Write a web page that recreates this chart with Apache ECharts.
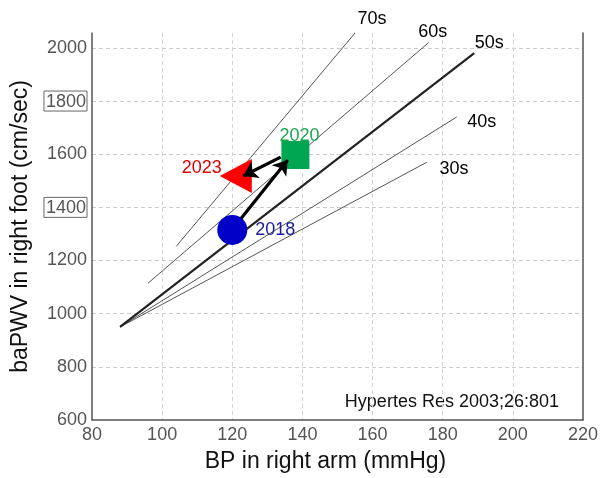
<!DOCTYPE html>
<html>
<head>
<meta charset="utf-8">
<script src="https://cdn.jsdelivr.net/npm/echarts@6/dist/echarts.min.js"></script>
<style>
  html, body { margin: 0; padding: 0; background: #fff; }
  #main { width: 601px; height: 478px; }
</style>
</head>
<body>
<div id="main"></div>
<script>
// age-group reference lines (BP, baPWV)
var ageGroups = ['30s', '40s', '50s', '60s', '70s'];
var lineStart = [[88, 950], [88, 950], [88, 950], [96, 1115], [104, 1253]];
var lineEnd = [[175.5, 1570], [184, 1740], [189, 1980], [176, 2020], [155, 2056]];

// patient measurements
var years = ['2018', '2020', '2023'];
var bpValues = [120, 138, 121];
var pwvValues = [1315, 1597, 1518];

// arrows between measurements
var arrowFrom = [[122.5, 1358], [133.8, 1589]];
var arrowTo = [[135.8, 1578], [123.1, 1518]];

var xTicks = [80, 100, 120, 140, 160, 180, 200, 220];
var yTicks = [600, 800, 1000, 1200, 1400, 1600, 1800, 2000];

var font = 'Liberation Sans, Arial, sans-serif';

function createChart() {
    var chartDom = document.getElementById('main');
    var myChart = echarts.init(chartDom);
    var option;

    var series = [];
    for (let i = 0; i < ageGroups.length; i++) {
        series.push({
            name: ageGroups[i],
            type: 'line',
            data: [lineStart[i], lineEnd[i]],
            symbol: 'none',
            clip: false,
            silent: true,
            lineStyle: {
                color: ageGroups[i] === '50s' ? '#222' : '#555',
                width: ageGroups[i] === '50s' ? 2.2 : 1
            },
            z: 2
        });
    }

    // label offsets for line-end texts
    var lblOffset = [[27, 7], [25, 5], [15, -10], [4, -11], [17, -14]];
    series.push({
        type: 'scatter',
        symbolSize: 0,
        silent: true,
        clip: false,
        itemStyle: { opacity: 1 },
        data: lineEnd.map(function (p, i) {
            return {
                value: p,
                label: {
                    show: true,
                    position: 'inside',
                    offset: lblOffset[i],
                    formatter: ageGroups[i],
                    color: '#000',
                    textBorderWidth: 0,
                    fontSize: 18,
                    fontFamily: font
                }
            };
        })
    });

    series.push({
        type: 'lines',
        coordinateSystem: 'cartesian2d',
        symbol: ['none', 'arrow'],
        symbolSize: 14,
        lineStyle: { color: '#000', width: 3.2, opacity: 1 },
        data: arrowFrom.map(function (p, i) {
            return { coords: [p, arrowTo[i]] };
        }),
        z: 8
    });

    var markerSymbol = ['circle', 'rect', 'triangle'];
    var markerSize = [30, 28, [34, 32]];
    var markerRotate = [0, 0, 90];
    var markerColor = ['#0000c8', '#00a651', '#ff0000'];
    var textColor = ['#1c1ca0', '#1ca650', '#e00000'];
    var textPos = ['right', 'top', 'left'];
    var textOffset = [[3, 0], [4, 9], [7, -8]];
    for (let i = 0; i < years.length; i++) {
        series.push({
            name: years[i],
            type: 'scatter',
            symbol: markerSymbol[i],
            symbolSize: markerSize[i],
            symbolRotate: markerRotate[i],
            itemStyle: { color: markerColor[i], opacity: 1 },
            data: [[bpValues[i], pwvValues[i]]],
            label: {
                show: true,
                position: textPos[i],
                offset: textOffset[i],
                formatter: years[i],
                color: textColor[i],
                fontSize: 18,
                fontFamily: font
            },
            z: i === 2 ? 4 : 5
        });
    }

    option = {
        animation: false,
        backgroundColor: '#fff',
        grid: { left: 92, right: 15, top: 33, bottom: 55 },
        xAxis: {
            type: 'value',
            min: 80,
            max: 220,
            interval: 20,
            name: 'BP in right arm (mmHg)',
            nameLocation: 'middle',
            nameGap: 30,
            nameTextStyle: { fontSize: 23, color: '#111', fontFamily: font, padding: [0, 24, 0, 0] },
            axisLine: { show: true, lineStyle: { color: '#555', width: 1.5 } },
            axisTick: { show: false },
            axisLabel: { fontSize: 18, color: '#555', fontFamily: font, margin: 6 },
            splitLine: { show: true, showMinLine: false, showMaxLine: false, lineStyle: { color: '#d4d4d4', type: [4, 3] } }
        },
        yAxis: [{
            type: 'value',
            min: 600,
            max: 2056,
            interval: 200,
            name: 'baPWV in right foot (cm/sec)',
            nameLocation: 'middle',
            nameGap: 59,
            nameTextStyle: { fontSize: 23, color: '#111', fontFamily: font },
            axisLine: { show: true, lineStyle: { color: '#555', width: 1.5 } },
            axisTick: { show: false },
            axisLabel: {
                fontSize: 18,
                color: '#555',
                fontFamily: font,
                margin: 5,
                showMaxLabel: false,
                formatter: function (v) {
                    if (v === 1800 || v === 1400) return '{box|' + v + '}';
                    return v;
                },
                rich: {
                    box: {
                        fontSize: 18,
                        color: '#555',
                        fontFamily: font,
                        borderColor: '#666',
                        borderWidth: 1,
                        padding: [2, 1, 0, 2]
                    }
                }
            },
            splitLine: { show: true, showMinLine: false, showMaxLine: false, lineStyle: { color: '#ccc', type: [4, 3] } }
        }, {
            type: 'value',
            position: 'right',
            min: 600,
            max: 2056,
            interval: 200,
            axisLine: { show: true, lineStyle: { color: '#555', width: 1.5 } },
            axisTick: { show: false },
            axisLabel: { show: false },
            splitLine: { show: false }
        }],
        graphic: [{
            type: 'text',
            right: 42,
            top: 393,
            style: {
                text: 'Hypertes Res 2003;26:801',
                fontSize: 18,
                fontFamily: font,
                fill: '#111'
            }
        }],
        series: series
    };

    option && myChart.setOption(option);
}

createChart();
</script>
</body>
</html>
